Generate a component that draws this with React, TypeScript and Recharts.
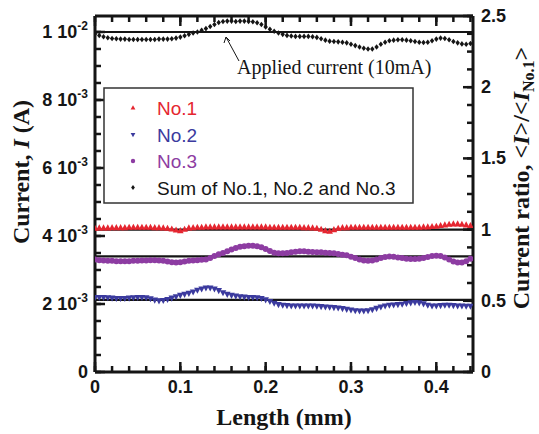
import { ComposedChart, Scatter, XAxis, YAxis, ReferenceLine } from "recharts";

// sampling step along the length axis (mm)
const lengthStep = 0.005;

// currents in mA, every 0.005 mm
const no1Current = [
  4.22, 4.23, 4.23, 4.23, 4.24, 4.24, 4.24, 4.24, 4.25, 4.25, 4.25, 4.25, 4.25, 4.25, 4.24, 4.24, 4.23, 4.22, 4.2, 4.17,
  4.15, 4.19, 4.23,
  4.24, 4.25, 4.25, 4.26, 4.26, 4.26, 4.26, 4.26, 4.26, 4.26, 4.26, 4.26, 4.26, 4.26, 4.26, 4.26, 4.26, 4.26, 4.25, 4.25,
  4.25, 4.25, 4.25, 4.25, 4.25, 4.25, 4.24, 4.24, 4.23, 4.22,
  4.19, 4.15, 4.13, 4.18, 4.22,
  4.24, 4.24, 4.25, 4.25, 4.25, 4.25, 4.25, 4.25, 4.25, 4.25, 4.25, 4.25, 4.25, 4.25, 4.25, 4.25, 4.25, 4.25, 4.25, 4.26,
  4.26, 4.27, 4.28, 4.3,
  4.32, 4.34, 4.35, 4.35, 4.34, 4.32, 4.3,
];

const no2Current = [
  2.2, 2.2, 2.2, 2.19, 2.18, 2.17, 2.17, 2.17, 2.18, 2.19, 2.2, 2.2, 2.19, 2.16, 2.12, 2.1, 2.11, 2.14, 2.18, 2.22,
  2.26, 2.29, 2.32, 2.36, 2.41, 2.45, 2.48, 2.48, 2.45, 2.4, 2.34, 2.29, 2.26, 2.24, 2.22, 2.21, 2.2, 2.2, 2.19, 2.17,
  2.13, 2.08, 2.03, 1.99, 1.97, 1.96, 1.95, 1.95, 1.95, 1.95, 1.95, 1.95, 1.94, 1.93, 1.92, 1.91, 1.9, 1.89, 1.87, 1.85,
  1.83, 1.81, 1.8, 1.8, 1.81, 1.84, 1.88, 1.92, 1.95, 1.97, 1.98, 1.99, 2.0, 2.02, 2.04, 2.05, 2.04, 2.01, 1.97, 1.95,
  1.95, 1.96, 1.97, 1.97, 1.96, 1.95, 1.95, 1.94, 1.94,
];

const no3Current = [
  3.31, 3.29, 3.28, 3.27, 3.27, 3.26, 3.26, 3.26, 3.26, 3.27, 3.27, 3.28, 3.28, 3.29, 3.29, 3.28, 3.27, 3.25, 3.23, 3.22,
  3.23, 3.25, 3.27, 3.28, 3.29, 3.3, 3.31, 3.35, 3.41, 3.46, 3.5, 3.55, 3.6, 3.65, 3.68, 3.7, 3.71, 3.71, 3.7, 3.67,
  3.62, 3.56, 3.51, 3.49, 3.49, 3.5, 3.52, 3.54, 3.55, 3.55, 3.54, 3.53, 3.52, 3.52, 3.51, 3.5, 3.49, 3.47, 3.45, 3.43,
  3.39, 3.35, 3.31, 3.28, 3.27, 3.28, 3.31, 3.35, 3.38, 3.4, 3.39, 3.37, 3.35, 3.33, 3.32, 3.32, 3.33, 3.35, 3.38, 3.41,
  3.42, 3.41, 3.37, 3.31, 3.25, 3.22, 3.22, 3.26, 3.33,
];

const sumCurrent = [
  9.94, 9.9, 9.86, 9.83, 9.81, 9.8, 9.79, 9.79, 9.78, 9.78, 9.78, 9.78, 9.78, 9.78, 9.78, 9.79, 9.79, 9.79, 9.8,
  9.82, 9.85, 9.89, 9.93, 9.97, 10.0, 10.05, 10.1, 10.16, 10.22, 10.28, 10.31, 10.32, 10.32, 10.31, 10.32, 10.32, 10.31,
  10.3, 10.27, 10.22, 10.15, 10.08, 10.02, 9.97, 9.93, 9.9, 9.88, 9.87, 9.87, 9.87, 9.87, 9.86, 9.84, 9.8, 9.76, 9.73,
  9.72, 9.71, 9.7, 9.68, 9.64, 9.6, 9.56, 9.52, 9.5, 9.5, 9.56, 9.64, 9.7, 9.74, 9.76, 9.77, 9.77, 9.76, 9.74, 9.72,
  9.7, 9.69, 9.7, 9.74, 9.79, 9.82, 9.81, 9.77, 9.72, 9.68, 9.65, 9.64, 9.66,
];

// horizontal guide lines (A): applied current and the mean levels
const guideLevels = [0.01, 0.00419, 0.0034, 0.00212];

const xTickLabels = ["0", "0.1", "0.2", "0.3", "0.4"];
const leftTickLabels = [
  { m: "0", e: "" },
  { m: "2 10", e: "-3" },
  { m: "4 10", e: "-3" },
  { m: "6 10", e: "-3" },
  { m: "8 10", e: "-3" },
  { m: "1 10", e: "-2" },
];
const rightTickLabels = ["0", "0.5", "1", "1.5", "2", "2.5"];

const toPoints = (vals: number[]) =>
  vals.map((v, i) => ({ x: +(i * lengthStep).toFixed(3), y: v / 1000 }));

const xTicks = Array.from({ length: 23 }, (_, i) => +(i * 0.02).toFixed(2));
const leftTicks = Array.from({ length: 21 }, (_, i) => +(i * 0.0005).toFixed(4));
const rightTicks = Array.from({ length: 21 }, (_, i) => +(i * 0.125).toFixed(3));

const INK = "#151515";
const RED = "#e52630";
const BLUE = "#3b3a9e";
const PURPLE = "#8d3ca2";
const tickFont = { fontFamily: "Liberation Sans, Arial, sans-serif", fontWeight: 700, fontSize: 18, fill: INK };

// minor tick length drawn by recharts (inward), majors get a longer segment here
const MINOR = 6;
const MAJOR = 10;

const BottomTick = (props: any) => {
  const { x, y, payload } = props;
  const i = Math.round(payload.value / 0.02);
  if (i % 5 !== 0) return <g />;
  return (
    <g>
      <path d={`M${x},${y}V${y - MAJOR}`} stroke={INK} strokeWidth={2.5} fill="none" />
      <text x={x} y={y + 21} textAnchor="middle" {...tickFont}>
        {xTickLabels[i / 5]}
      </text>
    </g>
  );
};

const TopTick = (props: any) => {
  const { x, y, payload } = props;
  if (Math.round(payload.value / 0.02) % 5 !== 0) return <g />;
  return <path d={`M${x},${y}V${y + MAJOR}`} stroke={INK} strokeWidth={2.5} fill="none" />;
};

const LeftTick = (props: any) => {
  const { x, y, payload } = props;
  const i = Math.round(payload.value / 0.0005);
  if (i % 4 !== 0) return <g />;
  const lab = leftTickLabels[i / 4];
  return (
    <g>
      <path d={`M${x},${y}H${x + MAJOR}`} stroke={INK} strokeWidth={2.5} fill="none" />
      <text x={x - 7} y={y + 6} textAnchor="end" {...tickFont}>
        {lab.m}
        {lab.e && (
          <tspan dy={-8} fontSize={12}>
            {lab.e}
          </tspan>
        )}
      </text>
    </g>
  );
};

const RightTick = (props: any) => {
  const { x, y, payload } = props;
  const i = Math.round(payload.value / 0.125);
  if (i % 4 !== 0) return <g />;
  return (
    <g>
      <path d={`M${x},${y}H${x - MAJOR}`} stroke={INK} strokeWidth={2.5} fill="none" />
      <text x={x + 8} y={y + 6} textAnchor="start" {...tickFont}>
        {rightTickLabels[i / 4]}
      </text>
    </g>
  );
};

const upTri = (p: any) => (
  <polygon points={`${p.cx},${p.cy - 3.8} ${p.cx - 3.3},${p.cy + 2.3} ${p.cx + 3.3},${p.cy + 2.3}`} fill={RED} />
);
const downTri = (p: any) => (
  <polygon points={`${p.cx},${p.cy + 3.8} ${p.cx - 3.3},${p.cy - 2.3} ${p.cx + 3.3},${p.cy - 2.3}`} fill={BLUE} />
);
const dot = (p: any) => <circle cx={p.cx} cy={p.cy} r={3} fill={PURPLE} />;
const diamond = (p: any) => (
  <polygon points={`${p.cx},${p.cy - 2.8} ${p.cx + 2.2},${p.cy} ${p.cx},${p.cy + 2.8} ${p.cx - 2.2},${p.cy}`} fill={INK} />
);

const legendRows = [
  { label: "No.1", color: RED, mark: "up" },
  { label: "No.2", color: BLUE, mark: "down" },
  { label: "No.3", color: PURPLE, mark: "dot" },
  { label: "Sum of No.1, No.2 and No.3", color: INK, mark: "diamond" },
];

const LegendMark = ({ kind, x, y, color }: any) => {
  if (kind === "up") return <polygon points={`${x},${y - 2.8} ${x - 2.4},${y + 1.6} ${x + 2.4},${y + 1.6}`} fill={color} />;
  if (kind === "down") return <polygon points={`${x},${y + 2.8} ${x - 2.4},${y - 1.6} ${x + 2.4},${y - 1.6}`} fill={color} />;
  if (kind === "dot") return <circle cx={x} cy={y} r={2.2} fill={color} />;
  return <polygon points={`${x},${y - 2.5} ${x + 1.9},${y} ${x},${y + 2.5} ${x - 1.9},${y}`} fill={color} />;
};

const serif = "Liberation Serif, Times New Roman, serif";

export default function App() {
  const axisLine = { stroke: INK, strokeWidth: 3 };
  const tickLine = { stroke: INK, strokeWidth: 2.5 };
  return (
    <div style={{ position: "absolute", left: 0, top: 0, width: 539, height: 434, background: "#fff" }}>
      <ComposedChart width={539} height={434} margin={{ top: 14, right: 16, bottom: 32, left: 25 }}>
        <XAxis
          xAxisId="b"
          type="number"
          dataKey="x"
          domain={[0, 0.443]}
          ticks={xTicks}
          interval={0}
          allowDataOverflow
          tick={<BottomTick />}
          tickSize={-MINOR}
          tickMargin={MINOR}
          tickLine={tickLine}
          axisLine={axisLine}
          height={30}
        />
        <XAxis
          xAxisId="t"
          orientation="top"
          type="number"
          dataKey="x"
          domain={[0, 0.443]}
          ticks={xTicks}
          interval={0}
          allowDataOverflow
          tick={<TopTick />}
          tickSize={-MINOR}
          tickMargin={MINOR}
          tickLine={tickLine}
          axisLine={axisLine}
          height={2}
        />
        <YAxis
          yAxisId="l"
          type="number"
          dataKey="y"
          domain={[0, 0.01047]}
          ticks={leftTicks}
          interval={0}
          allowDataOverflow
          tick={<LeftTick />}
          tickSize={-MINOR}
          tickMargin={MINOR}
          tickLine={tickLine}
          axisLine={axisLine}
          width={70}
        />
        <YAxis
          yAxisId="r"
          orientation="right"
          type="number"
          domain={[0, 2.5]}
          ticks={rightTicks}
          interval={0}
          allowDataOverflow
          tick={<RightTick />}
          tickSize={-MINOR}
          tickMargin={MINOR}
          tickLine={tickLine}
          axisLine={axisLine}
          width={50}
        />
        {guideLevels.map((v) => (
          <ReferenceLine key={v} y={v} xAxisId="b" yAxisId="l" stroke={INK} strokeWidth={2.2} />
        ))}
        <Scatter data={toPoints(no1Current)} dataKey="y" xAxisId="b" yAxisId="l" shape={upTri} isAnimationActive={false} />
        <Scatter data={toPoints(no2Current)} dataKey="y" xAxisId="b" yAxisId="l" shape={downTri} isAnimationActive={false} />
        <Scatter data={toPoints(no3Current)} dataKey="y" xAxisId="b" yAxisId="l" shape={dot} isAnimationActive={false} />
        <Scatter data={toPoints(sumCurrent)} dataKey="y" xAxisId="b" yAxisId="l" shape={diamond} isAnimationActive={false} />
      </ComposedChart>
      <svg width={539} height={434} style={{ position: "absolute", left: 0, top: 0, pointerEvents: "none" }}>
        {/* annotation */}
        <line x1={239} y1={61} x2={226} y2={37} stroke={INK} strokeWidth={1} />
        <polyline points="224,43 226,37 230,41" fill="none" stroke={INK} strokeWidth={1} />
        <text x={237} y={74} fontFamily={serif} fontSize={20} fill={INK}>
          Applied current (10mA)
        </text>
        {/* legend */}
        <rect x={104} y={88} width={309} height={115} fill="#fff" stroke="#333" strokeWidth={1.5} />
        {legendRows.map((r, i) => (
          <g key={r.label}>
            <LegendMark kind={r.mark} x={133} y={108 + i * 26.5} color={r.color} />
            <text x={157} y={115 + i * 26.5} fontFamily="Liberation Sans, Arial, sans-serif" fontSize={19} fill={r.color}>
              {r.label}
            </text>
          </g>
        ))}
        {/* axis titles */}
        <text
          transform="translate(29,172) rotate(-90)"
          textAnchor="middle"
          fontFamily={serif}
          fontWeight={700}
          fontSize={24}
          fill={INK}
        >
          Current, <tspan fontStyle="italic">I</tspan> (A)
        </text>
        <text x={284} y={425} textAnchor="middle" fontFamily={serif} fontWeight={700} fontSize={24} fill={INK}>
          Length (mm)
        </text>
        <text
          transform="translate(529,178) rotate(-90)"
          textAnchor="middle"
          fontFamily={serif}
          fontWeight={700}
          fontSize={24}
          fill={INK}
        >
          Current ratio, &lt;<tspan fontStyle="italic">I</tspan>&gt;/&lt;<tspan fontStyle="italic">I</tspan>
          <tspan fontSize={16} dy={5}>
            No.1
          </tspan>
          <tspan dy={-5}>&gt;</tspan>
        </text>
      </svg>
    </div>
  );
}
